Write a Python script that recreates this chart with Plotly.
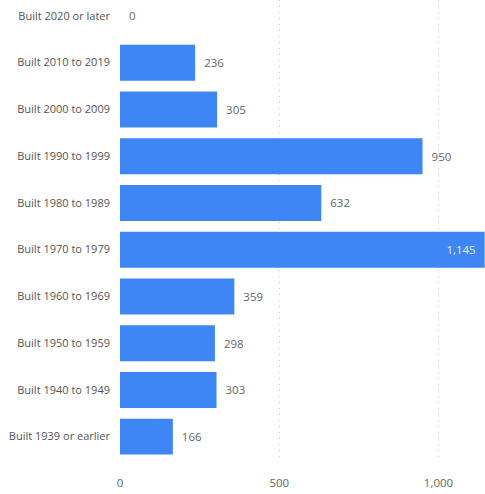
import plotly.graph_objects as go

categories = [
    "Built 2020 or later",
    "Built 2010 to 2019",
    "Built 2000 to 2009",
    "Built 1990 to 1999",
    "Built 1980 to 1989",
    "Built 1970 to 1979",
    "Built 1960 to 1969",
    "Built 1950 to 1959",
    "Built 1940 to 1949",
    "Built 1939 or earlier",
]
units = [0, 236, 305, 950, 632, 1145, 359, 298, 303, 166]
tick_values = [0, 500, 1000]
tick_labels = ["0", "500", "1,000"]

max_val = max(units)
pad = "\u00a0\u00a0"
positions = ["inside" if v == max_val else "outside" for v in units]
labels = [f"{v:,}{pad}" if v == max_val else f"{pad}{v:,}" for v in units]
text_colors = ["#e6eefd" if v == max_val else "#666666" for v in units]

fig = go.Figure(
    go.Bar(
        x=units,
        y=categories,
        orientation="h",
        marker=dict(color="#3e86f4", line=dict(width=0)),
        text=labels,
        textposition=positions,
        insidetextanchor="end",
        textangle=0,
        constraintext="none",
        textfont=dict(color=text_colors, size=11.5, family="Open Sans"),
        cliponaxis=False,
        hoverinfo="skip",
    )
)

fig.update_layout(
    width=485,
    height=494,
    margin=dict(l=120, r=0, t=0, b=34),
    paper_bgcolor="white",
    plot_bgcolor="white",
    bargap=0.23,
    showlegend=False,
    font=dict(family="Open Sans", color="#666666", size=11),
    xaxis=dict(
        range=[0, 1146],
        tickvals=tick_values,
        ticktext=tick_labels,
        showgrid=True,
        gridcolor="#c8c8c8",
        griddash="1px,5px",
        gridwidth=1,
        zeroline=False,
        showline=False,
        ticks="",
        ticklabelstandoff=14,
        tickfont=dict(size=11.5, color="#666666"),
        fixedrange=True,
    ),
    yaxis=dict(
        categoryorder="array",
        categoryarray=categories,
        range=[9.5, -0.34],
        showgrid=False,
        zeroline=False,
        showline=False,
        ticks="",
        ticklabelstandoff=9,
        tickfont=dict(size=11, color="#555555"),
        fixedrange=True,
    ),
)

fig.write_html("out.html")
